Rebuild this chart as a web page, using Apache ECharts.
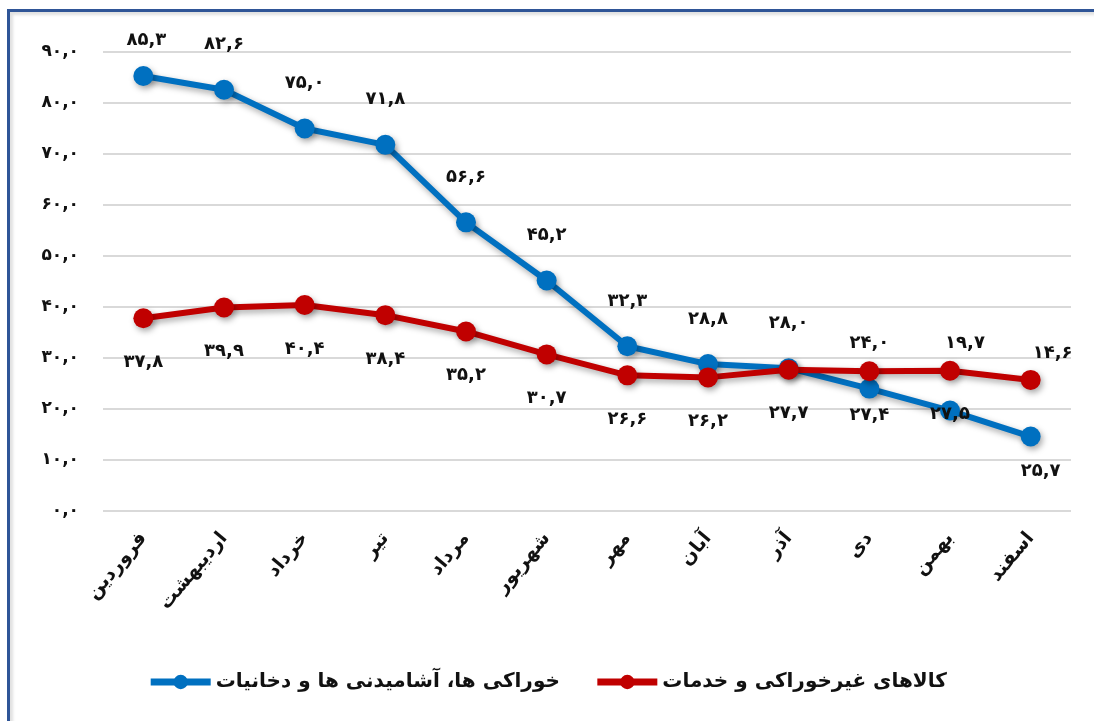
<!DOCTYPE html>
<html>
<head>
<meta charset="utf-8">
<script src="https://cdn.jsdelivr.net/npm/echarts@6/dist/echarts.min.js"></script>
<style>
  html, body { margin: 0; padding: 0; background: #fff; }
  .frame {
    position: absolute; left: 7px; top: 9px; width: 1200px; height: 800px;
    border-left: 3px solid #2F5597; border-top: 3px solid #2F5597;
    box-shadow: inset 3px 3px 3px rgba(0,0,0,0.12);
  }
  #chart { position: absolute; left: 0; top: 0; width: 1094px; height: 721px; }
</style>
</head>
<body>
<div class="frame"></div>
<div id="chart"></div>
<script>
// months (Persian calendar)
const months = ['فروردین', 'اردیبهشت', 'خرداد', 'تیر', 'مرداد', 'شهریور', 'مهر', 'آبان', 'آذر', 'دی', 'بهمن', 'اسفند']
// food, beverages and tobacco
const foodValues = [85.3, 82.6, 75.0, 71.8, 56.6, 45.2, 32.3, 28.8, 28.0, 24.0, 19.7, 14.6]
// non-food goods and services
const nonFoodValues = [37.8, 39.9, 40.4, 38.4, 35.2, 30.7, 26.6, 26.2, 27.7, 27.4, 27.5, 25.7]
const seriesNames = ['خوراکی ها، آشامیدنی ها و دخانیات', 'کالاهای غیرخوراکی و خدمات']

// labels that were nudged by hand in the original (index -> label style)
const foodLabelFix = {
  0: { distance: 17, offset: [3, 0] },
  10: { distance: 48, offset: [15, 0] },
  11: { distance: 64, offset: [22, 0] }
}
const nonFoodLabelFix = {
  11: { distance: 72, offset: [10, 0] }
}

const faDigits = '۰۱۲۳۴۵۶۷۸۹'
const toFa = (v) =>
  v.toFixed(1).replace(/\d/g, (d) => faDigits[d]).replace('.', ',')

const withLabels = (values, fixes) =>
  values.map((v, i) => (fixes[i] ? { value: v, label: fixes[i] } : v))

const font = '"DejaVu Sans", sans-serif'
const lineShadow = {
  shadowColor: 'rgba(0,0,0,0.35)',
  shadowBlur: 6,
  shadowOffsetX: 2,
  shadowOffsetY: 3
}
const labelStyle = {
  show: true,
  fontSize: 18,
  fontWeight: 'bold',
  color: '#111',
  fontFamily: font,
  formatter: (p) => toFa(p.value)
}

const chart = echarts.init(document.getElementById('chart'))
const option = {
  animation: false,
  textStyle: { fontFamily: font },
  grid: { left: 103, right: 23, top: 52, bottom: 210, containLabel: false },
  legend: {
    bottom: 24,
    left: 'center',
    itemWidth: 60,
    itemHeight: 18,
    itemGap: 34,
    lineStyle: { width: 7 },
    textStyle: { fontSize: 20, fontWeight: 'bold', color: '#111', fontFamily: font },
    data: seriesNames
  },
  xAxis: {
    type: 'category',
    data: months,
    axisLine: { show: false },
    axisTick: { show: false },
    axisLabel: {
      rotate: 50,
      margin: 24,
      fontSize: 19,
      fontWeight: 'bold',
      color: '#111',
      interval: 0,
      fontFamily: font
    }
  },
  yAxis: {
    type: 'value',
    min: 0,
    max: 90,
    interval: 10,
    axisLine: { show: false },
    axisTick: { show: false },
    splitLine: { lineStyle: { color: '#d9d9d9', width: 2 } },
    axisLabel: {
      margin: 24,
      fontSize: 17,
      fontWeight: 'bold',
      color: '#111',
      fontFamily: font,
      formatter: (v) => toFa(v)
    }
  },
  series: [
    {
      name: seriesNames[0],
      type: 'line',
      data: withLabels(foodValues, foodLabelFix),
      color: '#0070C0',
      symbol: 'circle',
      symbolSize: 20,
      lineStyle: Object.assign({ width: 6 }, lineShadow),
      itemStyle: Object.assign({ color: '#0070C0' }, lineShadow),
      label: Object.assign({ position: 'top', distance: 26 }, labelStyle),
      z: 3
    },
    {
      name: seriesNames[1],
      type: 'line',
      data: withLabels(nonFoodValues, nonFoodLabelFix),
      color: '#C00000',
      symbol: 'circle',
      symbolSize: 20,
      lineStyle: Object.assign({ width: 6 }, lineShadow),
      itemStyle: Object.assign({ color: '#C00000' }, lineShadow),
      label: Object.assign({ position: 'bottom', distance: 25 }, labelStyle),
      z: 4
    }
  ]
}
chart.setOption(option)
</script>
</body>
</html>
